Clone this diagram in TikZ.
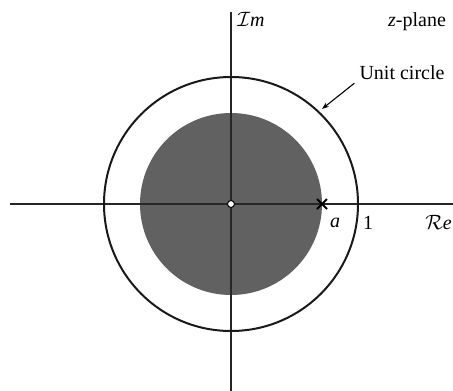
\documentclass[tikz,border=0pt]{standalone}
\usepackage{fontspec}
\setmainfont{Liberation Serif}
\usetikzlibrary{arrows.meta,calc}
\begin{document}
\begin{tikzpicture}[x=1pt,y=-1pt,
  lbl/.style={inner sep=0pt,font=\fontsize{20}{24}\selectfont},
  axisline/.style={line width=1.3pt,black!85},
  circ/.style={line width=2pt,black!90}]
\useasboundingbox (0,0) rectangle (453,391);
\coordinate (O) at (231,204);
% shaded region |z|<a
\fill[black!62] (O) circle[radius=91];
% axes
\coordinate (xl) at (10,204);
\coordinate (xr) at (453,204);
\coordinate (yt) at (231,12);
\coordinate (yb) at (231,391);
\draw[axisline] (xl) -- (xr);
\draw[axisline] (yt) -- (yb);
% unit circle
\draw[circ] (O) circle[radius=127];
% zero at origin
\node[circle,draw=black,line width=1pt,fill=white,minimum size=7pt,inner sep=0pt] (zero) at (O) {};
% pole at a
\coordinate (pole) at (322,204);
\draw[line width=1.8pt] ($(pole)+(-5,-5)$) -- ($(pole)+(5,5)$);
\draw[line width=1.8pt] ($(pole)+(-5,5)$) -- ($(pole)+(5,-5)$);
% labels
\node[lbl] (im) at (251,19) {$\mathcal{I}$\textit{m}};
\node[lbl] (zp) at (417,22) {\textit{z}-plane};
\node[lbl] (uc) at (402,73) {Unit circle};
\node[lbl] (la) at (335,223) {\textit{a}};
\node[lbl] (l1) at (368,223) {1};
\node[lbl,anchor=east] (re) at (452,223) {$\mathcal{R}$\textit{e}};
\coordinate (uctip) at (322,109);
\draw[line width=1.1pt,-{Stealth[length=7pt,width=5pt]}] ($(uc.south west)+(-5,3)$) -- (uctip);
\end{tikzpicture}
\end{document}
